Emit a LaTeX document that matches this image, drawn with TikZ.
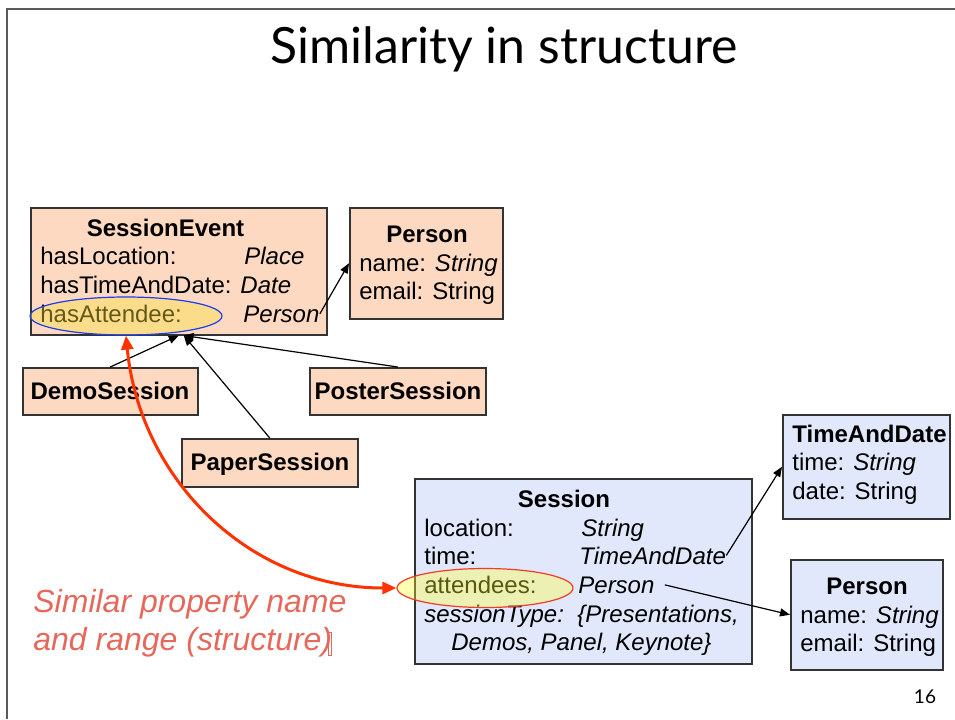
\documentclass[tikz,border=0pt]{standalone}
\usepackage{fontspec}
\setmainfont{Liberation Sans}
\newfontfamily\titlefont{Lato}
\usetikzlibrary{arrows.meta,shapes.geometric}
\definecolor{peach}{RGB}{253,217,193}
\definecolor{lblue}{RGB}{226,232,252}
\definecolor{framegray}{RGB}{90,90,90}
\definecolor{redtext}{RGB}{230,104,90}
\definecolor{redarrow}{RGB}{255,51,0}
\definecolor{yellowA}{RGB}{250,225,60}
\definecolor{yellowB}{RGB}{255,255,40}
\definecolor{blueline}{RGB}{30,60,240}
\definecolor{redline}{RGB}{240,60,40}
\tikzset{
  umlbox/.style={draw=black!80, line width=0.75pt, anchor=north west, inner sep=0pt},
  peachbox/.style={umlbox, fill=peach},
  bluebox/.style={umlbox, fill=lblue},
  txt/.style={anchor=base west, inner sep=0pt, font=\fontsize{12}{14}\selectfont},
  btxt/.style={anchor=base, inner sep=0pt, font=\fontsize{12}{14}\selectfont\bfseries},
  itxt/.style={txt, font=\fontsize{12}{14}\selectfont\itshape},
  redtxt/.style={anchor=base west, inner sep=0pt, text=redtext, font=\fontsize{16}{19}\selectfont\itshape},
  conn/.style={draw=black, line width=0.6pt, -{Triangle[length=5pt,width=4pt]}},
  hilite/.style={ellipse, inner sep=0pt, line width=0.6pt}
}
\begin{document}
\begin{tikzpicture}[x=0.5pt,y=-0.5pt]
\useasboundingbox (0,0) rectangle (955,719);
% slide frame
\draw[framegray, line width=1pt] (7,719) -- (7,9) -- (955,9);
% title
\node[anchor=base, inner sep=0pt, font=\fontsize{25}{30}\selectfont\titlefont] (title) at (504,63) {Similarity in structure};
\node[anchor=base, inner sep=0pt, font=\fontsize{9.5}{11}\selectfont\titlefont] (pagenum) at (925,703) {16};

% top boxes
\node[peachbox, minimum width=148pt, minimum height=63.5pt] (se) at (30,207) {};
\node[peachbox, minimum width=76.5pt, minimum height=55.5pt] (p1) at (349,207) {};
\node[peachbox, minimum width=87.5pt, minimum height=23.5pt] (demo) at (22,367) {};
\node[peachbox, minimum width=88pt, minimum height=23.5pt] (poster) at (309,367) {};
\node[peachbox, minimum width=88pt, minimum height=24pt] (paper) at (181,438) {};

\node[btxt] (seT) at (165.5,236) {SessionEvent};
\node[txt] (seL) at (40,264) {hasLocation:};
\node[itxt] (seLT) at (244,264) {Place};
\node[txt] (seD) at (40,293) {hasTimeAndDate: \textit{Date}};
\node[txt] (seA) at (40,322) {hasAttendee:};
\node[itxt] (seAT) at (243,322) {Person};

\node[btxt] (p1T) at (427,242) {Person};
\node[txt] (p1N) at (359,271) {name: \textit{String}};
\node[txt] (p1E) at (359,299) {email: String};

\node[btxt] (demoT) at (110,399) {DemoSession};
\node[btxt] (posterT) at (398,399) {PosterSession};
\node[btxt] (paperT) at (270,470) {PaperSession};

% bottom boxes
\node[bluebox, minimum width=168.5pt, minimum height=92.5pt] (ses) at (414,478) {};
\node[bluebox, minimum width=83.5pt, minimum height=52pt] (td) at (782,414) {};
\node[bluebox, minimum width=76pt, minimum height=55pt] (p2) at (790,559) {};

\node[btxt] (sesT) at (564,507) {Session};
\node[txt] (sesL) at (424,536) {location:};
\node[itxt] (sesLT) at (581,536) {String};
\node[txt] (sesTi) at (424,564) {time:};
\node[itxt] (sesTiT) at (579,564) {TimeAndDate};
\node[txt] (sesA) at (424,593) {attendees:};
\node[itxt] (sesAT) at (578,593) {Person};
\node[itxt] (sesS) at (424,622) {sessionType:~~\{Presentations,};
\node[itxt] (sesS2) at (451,650) {Demos, Panel, Keynote\}};

\node[txt, font=\fontsize{12}{14}\selectfont\bfseries] (tdT) at (792,442) {TimeAndDate};
\node[txt] (tdTi) at (792,470) {time: \textit{String}};
\node[txt] (tdD) at (792,499) {date: String};

\node[btxt] (p2T) at (867,594) {Person};
\node[txt] (p2N) at (800,623) {name: \textit{String}};
\node[txt] (p2E) at (800,651) {email: String};

% highlight ellipses
\node[hilite, draw=blueline, fill=yellowA, fill opacity=0.4, minimum width=96pt, minimum height=19pt] (ell1) at (126,316) {};
\node[hilite, draw=redline, fill=yellowB, fill opacity=0.35, minimum width=88pt, minimum height=19.5pt] (ell2) at (485,588) {};

% connectors
\draw[conn] (seAT.east) -- (p1.west);
\draw[conn] (demo.north) -- (se.south);
\draw[conn] (paper.north) -- ([xshift=2.5pt]se.south);
\draw[conn] (poster.north) -- ([xshift=2.5pt]se.south);
\draw[conn] (sesTiT.east) -- (td.west);
\draw[conn] ([xshift=5pt]sesAT.east) -- (p2.west);

% red double arrow
\draw[redarrow, line width=1.5pt, {Triangle[length=7pt,width=6pt]}-{Triangle[length=7pt,width=6pt]}]
  (ell1.south) .. controls (140,480) and (250,588) .. (ell2.west);

% annotation
\node[redtxt] (note1) at (33,612) {Similar property name};
\node[redtxt] (note2) at (33,650) {and range (structure)};
\draw[redtext, line width=0.4pt] (328,632) rectangle (331,655);
\end{tikzpicture}
\end{document}
